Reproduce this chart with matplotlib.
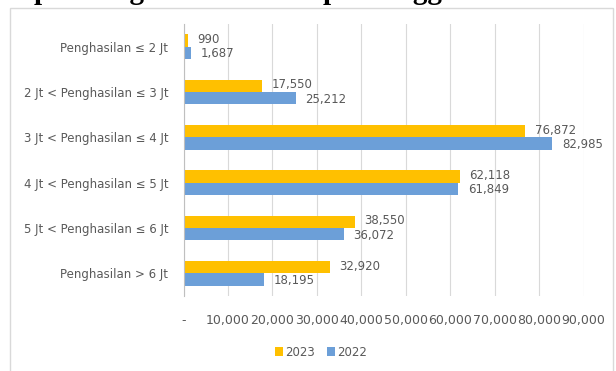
import matplotlib.pyplot as plt
import numpy as np

# Data
categories = ['Penghasilan ≤ 2 Jt', '2 Jt < Penghasilan ≤ 3 Jt', '3 Jt < Penghasilan ≤ 4 Jt',
              '4 Jt < Penghasilan ≤ 5 Jt', '5 Jt < Penghasilan ≤ 6 Jt', 'Penghasilan > 6 Jt']
values_2023 = [990, 17550, 76872, 62118, 38550, 32920]
values_2022 = [1687, 25212, 82985, 61849, 36072, 18195]
x_ticks = [0, 10000, 20000, 30000, 40000, 50000, 60000, 70000, 80000, 90000]
x_labels = ['-', '10,000', '20,000', '30,000', '40,000', '50,000', '60,000', '70,000', '80,000', '90,000']

GOLD = '#FFC000'
BLUE = '#6C9FD8'
GREY = '#595959'

fig = plt.figure(figsize=(6.16, 3.71), dpi=100)
fig.patch.set_facecolor('white')

# Chart frame (light border, like an Excel chart area)
frame = plt.Rectangle((10 / 616, -0.01), 0.995 - 10 / 616, 1 - 8 / 371 + 0.01,
                      transform=fig.transFigure, fill=False, edgecolor='#d9d9d9', lw=1)
fig.add_artist(frame)

# Report title, cut off by the top edge in the source (only descenders show)
fig.text(34 / 616, 1 + 0.5 / 371, 'per Penghasilan Kelompok Anggota', fontsize=21,
         fontweight='bold', family='Liberation Serif', va='baseline', ha='left')

ax = fig.add_axes([183.5 / 616, 1 - 296 / 371, 400 / 616, 272 / 371])

y = np.arange(len(categories))
h = 0.27
bars23 = ax.barh(y - h / 2, values_2023, height=h, color=GOLD, label='2023')
bars22 = ax.barh(y + h / 2, values_2022, height=h, color=BLUE, label='2022')

for b, v in zip(bars23, values_2023):
    ax.text(b.get_width() + 2200, b.get_y() + b.get_height() / 2 - 0.02, f'{v:,}',
            fontsize=8.5, color=GREY, va='center', ha='left')
for b, v in zip(bars22, values_2022):
    ax.text(b.get_width() + 2200, b.get_y() + b.get_height() / 2 + 0.02, f'{v:,}',
            fontsize=8.5, color=GREY, va='center', ha='left')

ax.set_ylim(len(categories) - 0.5, -0.5)
ax.set_xlim(0, 90000)
ax.set_yticks(y)
ax.set_yticklabels(categories, fontsize=8.5, color=GREY)
ax.set_xticks(x_ticks)
ax.set_xticklabels(x_labels, fontsize=9, color=GREY)
ax.tick_params(axis='y', length=0, pad=11)
ax.tick_params(axis='x', length=0, pad=13)

ax.grid(axis='x', color='#d9d9d9', lw=0.8)
ax.set_axisbelow(True)
for s in ['top', 'right', 'bottom']:
    ax.spines[s].set_visible(False)
ax.spines['left'].set_color('#bfbfbf')

fig.legend(loc='center', bbox_to_anchor=(321 / 616, 1 - 352 / 371), ncol=2, frameon=False,
           fontsize=8.5, handlelength=0.7, handleheight=0.7, handletextpad=0.2,
           columnspacing=1.0, labelcolor=GREY)

fig.savefig('out.png', dpi=100, facecolor='white')
